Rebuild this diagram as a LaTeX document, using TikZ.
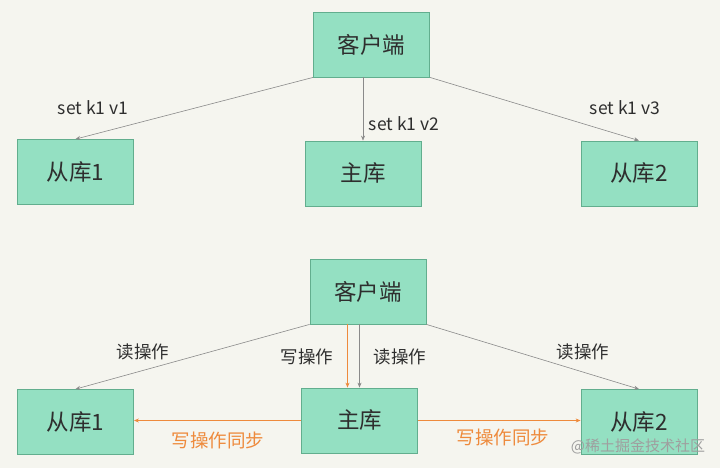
\documentclass[tikz,border=0pt]{standalone}
\usepackage{fontspec}
\setmainfont{Noto Sans CJK SC}
\usepackage{xcolor}
\usetikzlibrary{arrows.meta,positioning,calc}
\definecolor{bgpaper}{HTML}{F5F5EF}
\definecolor{dbfill}{HTML}{94E0C2}
\definecolor{dbedge}{HTML}{62AE8E}
\definecolor{linegray}{HTML}{8A8A8A}
\definecolor{syncorange}{HTML}{EE8A3C}
\definecolor{txtdark}{HTML}{2E2E2E}

\begin{document}
\begin{tikzpicture}[x=1pt,y=-1pt,
  dbbox/.style={draw=dbedge, fill=dbfill, line width=0.8pt, minimum width=116pt, minimum height=65pt,
    font=\fontsize{22.5}{26}\selectfont\color{txtdark}},
  cmd/.style={-{Stealth[length=5pt,width=4pt]}, linegray, line width=0.6pt},
  sync/.style={-{Stealth[length=5pt,width=4pt]}, syncorange, line width=0.9pt},
  lbl/.style={font=\fontsize{17.5}{20}\selectfont\color{txtdark}},
  olbl/.style={font=\fontsize{18.5}{22}\selectfont\color{syncorange}}]
  \fill[bgpaper] (0,0) rectangle (720,468);
  \useasboundingbox (0,0) rectangle (720,468);
  % top: writes go to every instance
  \path (371.5,44.5) node (cliA) [dbbox] {客户端};
  \path (75.5,172) node (slvA1) [dbbox] {从库1};
  \path (363,173.5) node (mstA) [dbbox] {主库};
  \path (639,173.5) node (slvA2) [dbbox] {从库2};
  \draw[cmd] (cliA.south west) -- (slvA1.north);
  \draw[cmd] (mstA.north |- cliA.south) -- (mstA.north);
  \draw[cmd] (cliA.south east) -- (slvA2.north);
  \node[lbl] (setA1) at (93,108) {set k1 v1};
  \node[lbl] (setA2) at (404,124) {set k1 v2};
  \node[lbl] (setA3) at (625,108) {set k1 v3};
  % bottom: read/write split
  \path (368,291.5) node (cliB) [dbbox] {客户端};
  \path (75.5,422) node (slvB1) [dbbox] {从库1};
  \path (359.5,420.5) node (mstB) [dbbox] {主库};
  \path (639,422) node (slvB2) [dbbox] {从库2};
  \draw[cmd] (cliB.south west) -- (slvB1.north);
  \draw[sync, line width=0.7pt] ($(mstB.north |- cliB.south)+(-12,0)$) -- ($(mstB.north)+(-12,0)$);
  \draw[cmd] (mstB.north |- cliB.south) -- (mstB.north);
  \draw[cmd] (cliB.south east) -- (slvB2.north);
  \draw[sync] (mstB.west) -- (slvB1.east |- mstB.west);
  \draw[sync] (mstB.east) -- (slvB2.west |- mstB.east);
  \node[lbl] (rdB1) at (143,352) {读操作};
  \node[lbl] (wrB) at (307,357) {写操作};
  \node[lbl] (rdB2) at (400,357) {读操作};
  \node[lbl] (rdB3) at (583,352) {读操作};
  \node[olbl] (syncB1) at (218,440) {写操作同步};
  \node[olbl] (syncB2) at (503,437) {写操作同步};
  \node[font=\fontsize{15}{17}\selectfont\color{gray!75}] (mark) at (638,446) {@稀土掘金技术社区};
\end{tikzpicture}
\end{document}
